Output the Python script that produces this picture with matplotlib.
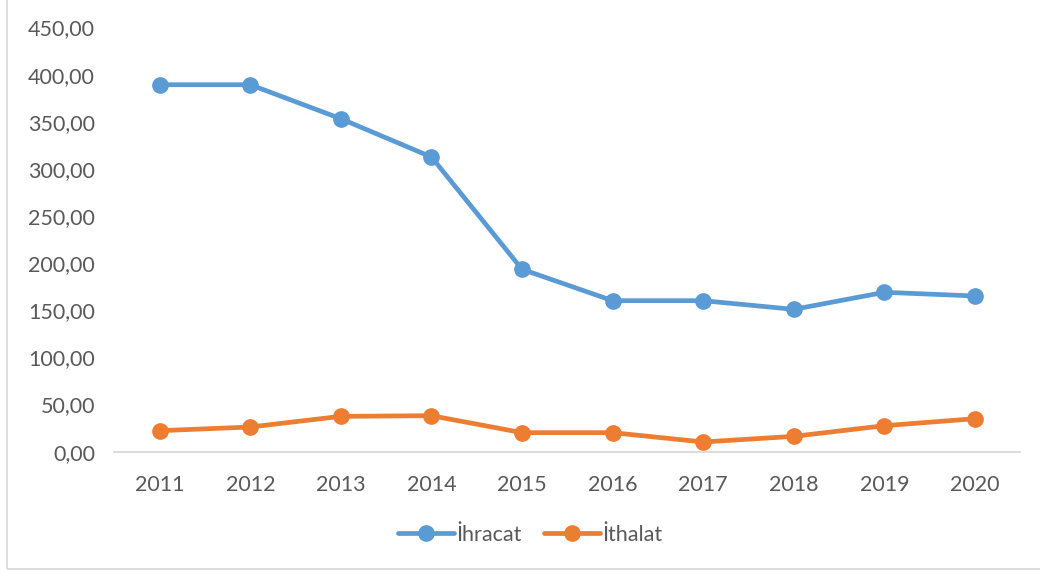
import matplotlib
matplotlib.use("Agg")
import matplotlib.pyplot as plt
from matplotlib.patches import Rectangle

years = ["2011", "2012", "2013", "2014", "2015", "2016", "2017", "2018", "2019", "2020"]
ihracat = [389.3, 389.3, 353.2, 312.6, 193.5, 160.2, 160.2, 151.0, 169.1, 165.2]
ithalat = [22.3, 26.2, 37.5, 38.2, 20.2, 20.2, 10.3, 16.3, 27.6, 35.0]
yticks = [0, 50, 100, 150, 200, 250, 300, 350, 400, 450]

plt.rcParams['font.family'] = ['Lato', 'DejaVu Sans']
W, H = 1040, 575
fig = plt.figure(figsize=(W / 100, H / 100), dpi=100)
ax = fig.add_axes([114.4 / W, 1 - 451.7 / H, (1020.3 - 114.4) / W, (451.7 - 27.5) / H])

x = list(range(len(years)))
ax.plot(x, ihracat, color='#5B9BD5', lw=3.4, marker='o', ms=11, label='İhracat', solid_capstyle='round')
ax.plot(x, ithalat, color='#ED7D31', lw=3.4, marker='o', ms=11, label='İthalat', solid_capstyle='round')

ax.set_xlim(-0.5, len(years) - 0.5)
ax.set_ylim(0, 450)
ax.set_xticks(x)
ax.set_xticklabels(years)
ax.set_yticks(yticks)
ax.set_yticklabels([f"{v:.2f}".replace('.', ',') for v in yticks])
ax.tick_params(axis='both', length=0, labelsize=15.5, colors='#595959')
ax.tick_params(axis='x', pad=17)
ax.tick_params(axis='y', pad=14)
for s in ['top', 'right', 'left']:
    ax.spines[s].set_visible(False)
ax.spines['bottom'].set_color('#D9D9D9')
ax.spines['bottom'].set_linewidth(1.3)

leg = fig.legend(loc='center', bbox_to_anchor=(0.51, 1 - 535 / H), ncol=2, frameon=False,
                 fontsize=15.5, handlelength=2.6, columnspacing=1.05, handletextpad=0.1,
                 labelcolor='#595959')

fig.patches.append(Rectangle((7 / W, 1 - 569 / H), 1.2, 1.2, transform=fig.transFigure,
                             fill=False, edgecolor='#D9D9D9', lw=1.2))

fig.savefig('out.png', dpi=100)
